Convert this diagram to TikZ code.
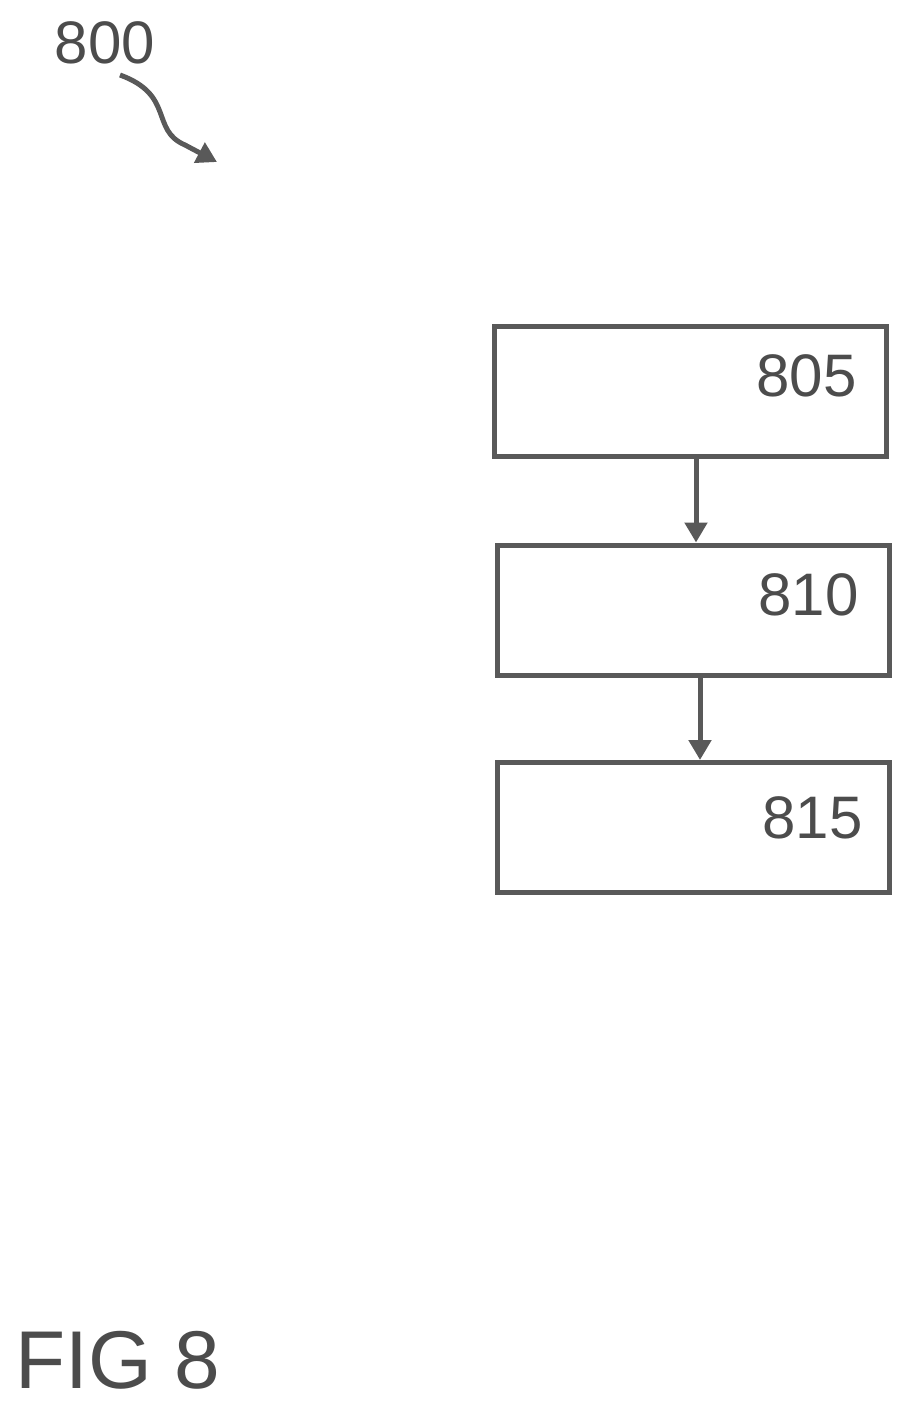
\documentclass[tikz,border=0pt]{standalone}
\usepackage{fontspec}
\setmainfont{Liberation Sans}
\usetikzlibrary{arrows.meta}
\begin{document}
\begin{tikzpicture}[x=1pt,y=-1pt,
  box/.style={draw=black!65,line width=5pt,minimum width=392pt,minimum height=130pt,inner sep=0pt},
  lbl/.style={font=\fontsize{60}{60}\selectfont,text=black!70},
  conn/.style={draw=black!65,line width=5pt,-{Triangle[length=20pt,width=22pt]}}]
\useasboundingbox (0,0) rectangle (912,1408);
\node[box] (b805) at (690.5,391) {};
\node[box] (b810) at (693.5,610) {};
\node[box] (b815) at (693.5,827.5) {};
\node[lbl,anchor=east] (t805) at (860,376) {805};
\node[lbl,anchor=east] (t810) at (862,595) {810};
\node[lbl,anchor=east] (t815) at (866,818) {815};
\draw[conn] (b805.south -| 696,0) -- (b810.north -| 696,0);
\draw[conn] (b810.south -| 700,0) -- (b815.north -| 700,0);
\node[lbl] (t800) at (105,43) {800};
\coordinate (s) at (120,75);
\coordinate (e) at (217,162);
\draw[conn] (s) .. controls (175,95) and (150,130) .. (185,145) -- (e);
\node[font=\fontsize{82}{82}\selectfont,text=black!70,anchor=west] (fig) at (12,1360) {FIG 8};
\end{tikzpicture}
\end{document}
